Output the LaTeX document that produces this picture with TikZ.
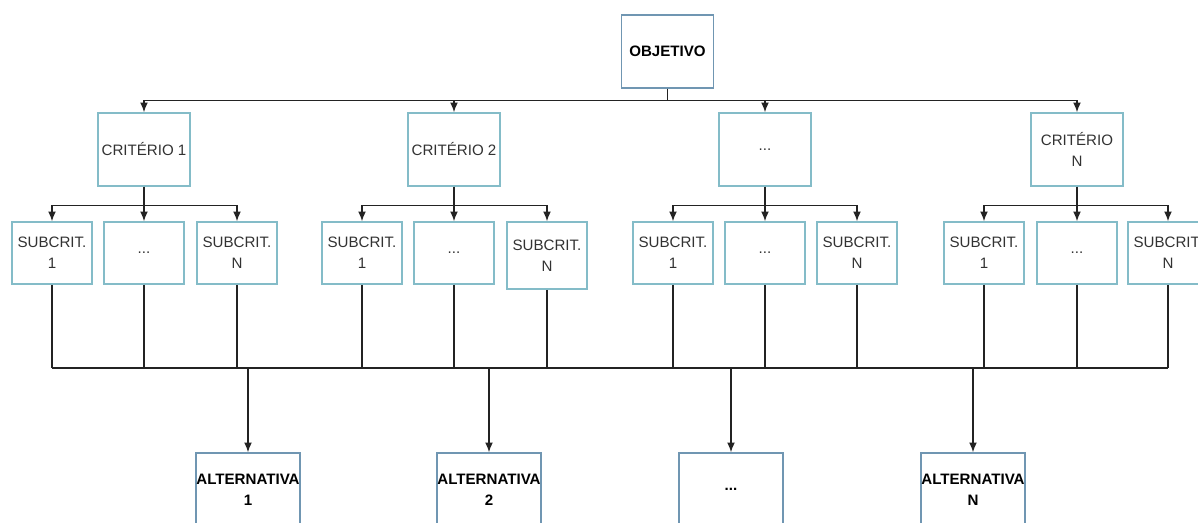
\documentclass[tikz,border=0pt]{standalone}
\usepackage{fontspec}
\setmainfont{Liberation Sans}
\usetikzlibrary{positioning, arrows.meta}
\definecolor{critBlue}{RGB}{132,188,200}
\definecolor{objBlue}{RGB}{112,150,178}
\definecolor{lineGray}{RGB}{35,35,35}
\definecolor{textGray}{RGB}{50,50,50}
\tikzset{
	critbox/.style={draw=critBlue, line width=0.9pt, rectangle, align=center, inner sep=0pt,
		minimum width=1.84cm, minimum height=1.46cm, text=textGray, font=\fontsize{8.6}{12}\selectfont},
	subbox/.style={critbox, minimum width=1.6cm, minimum height=1.24cm},
	objbox/.style={draw=objBlue, line width=0.9pt, rectangle, align=center, inner sep=0pt,
		minimum width=1.84cm, minimum height=1.46cm, text=black, font=\fontsize{8.6}{12}\selectfont\bfseries},
	altbox/.style={objbox, minimum width=2.08cm},
	link/.style={draw=lineGray, line width=0.8pt},
	arrowlink/.style={link, -{Latex[length=5.5pt, width=4.5pt]}}
}
\begin{document}
\begin{tikzpicture}[x=0.02cm, y=-0.02cm]
		\clip (0,0) rectangle (1198,523);
		
		\node (Objetivo) at (667.5,51.5) [objbox]{OBJETIVO};
		
		\node (Criterio 1) at (144,149.5) [critbox]{CRITÉRIO 1};
		\node (Criterio 2) at (454,149.5) [critbox]{CRITÉRIO 2};
		\node (Criterio 3) at (765,149.5) [critbox]{...};
		\node (Criterio N) at (1077,149.5) [critbox]{CRITÉRIO\\N};
		
		\node (Sub 1-1) at (52,253) [subbox]{SUBCRIT.\\1};
		\node (Sub 1-2) at (144,253) [subbox]{...};
		\node (Sub 1-N) at (237,253) [subbox]{SUBCRIT.\\N};
		
		\node (Sub 2-1) at (362,253) [subbox]{SUBCRIT.\\1};
		\node (Sub 2-2) at (454,253) [subbox]{...};
		\node (Sub 2-N) at (547,255.5) [subbox, minimum height=1.34cm]{SUBCRIT.\\N};
		
		\node (Sub 3-1) at (673,253) [subbox]{SUBCRIT.\\1};
		\node (Sub 3-2) at (765,253) [subbox]{...};
		\node (Sub 3-N) at (857,253) [subbox]{SUBCRIT.\\N};
		
		\node (Sub 4-1) at (984,253) [subbox]{SUBCRIT.\\1};
		\node (Sub 4-2) at (1077,253) [subbox]{...};
		\node (Sub 4-N) at (1168,253) [subbox]{SUBCRIT.\\N};
		
		\node (Alternativa 1) at (248,489.5) [altbox]{ALTERNATIVA\\1};
		\node (Alternativa 2) at (489,489.5) [altbox]{ALTERNATIVA\\2};
		\node (Alternativa 3) at (731,489.5) [altbox]{...};
		\node (Alternativa N) at (973,489.5) [altbox]{ALTERNATIVA\\N};
		
		\coordinate (Bus) at (0,368);
		
		%Links objetivo - criterios
		\draw[arrowlink] (Objetivo.270) -- ++(0,12) -| (Criterio 1.90);
		\draw[arrowlink] (Objetivo.270) -- ++(0,12) -| (Criterio 2.90);
		\draw[arrowlink] (Objetivo.270) -- ++(0,12) -| (Criterio 3.90);
		\draw[arrowlink] (Objetivo.270) -- ++(0,12) -| (Criterio N.90);
		
		%Links criterios - subcriterios
		\draw[arrowlink] (Criterio 1.270) -- ++(0,19) -| (Sub 1-1.90);
		\draw[arrowlink] (Criterio 1.270) -- (Sub 1-2.90);
		\draw[arrowlink] (Criterio 1.270) -- ++(0,19) -| (Sub 1-N.90);
		\draw[arrowlink] (Criterio 2.270) -- ++(0,19) -| (Sub 2-1.90);
		\draw[arrowlink] (Criterio 2.270) -- (Sub 2-2.90);
		\draw[arrowlink] (Criterio 2.270) -- ++(0,19) -| (Sub 2-N.90);
		\draw[arrowlink] (Criterio 3.270) -- ++(0,19) -| (Sub 3-1.90);
		\draw[arrowlink] (Criterio 3.270) -- (Sub 3-2.90);
		\draw[arrowlink] (Criterio 3.270) -- ++(0,19) -| (Sub 3-N.90);
		\draw[arrowlink] (Criterio N.270) -- ++(0,19) -| (Sub 4-1.90);
		\draw[arrowlink] (Criterio N.270) -- (Sub 4-2.90);
		\draw[arrowlink] (Criterio N.270) -- ++(0,19) -| (Sub 4-N.90);
		
		%Links subcriterios - barramento
		\draw[link] (Sub 1-1.270) -- (Sub 1-1.270 |- Bus);
		\draw[link] (Sub 1-2.270) -- (Sub 1-2.270 |- Bus);
		\draw[link] (Sub 1-N.270) -- (Sub 1-N.270 |- Bus);
		\draw[link] (Sub 2-1.270) -- (Sub 2-1.270 |- Bus);
		\draw[link] (Sub 2-2.270) -- (Sub 2-2.270 |- Bus);
		\draw[link] (Sub 2-N.270) -- (Sub 2-N.270 |- Bus);
		\draw[link] (Sub 3-1.270) -- (Sub 3-1.270 |- Bus);
		\draw[link] (Sub 3-2.270) -- (Sub 3-2.270 |- Bus);
		\draw[link] (Sub 3-N.270) -- (Sub 3-N.270 |- Bus);
		\draw[link] (Sub 4-1.270) -- (Sub 4-1.270 |- Bus);
		\draw[link] (Sub 4-2.270) -- (Sub 4-2.270 |- Bus);
		\draw[link] (Sub 4-N.270) -- (Sub 4-N.270 |- Bus);
		\draw[link] (Sub 1-1.270 |- Bus) -- (Sub 4-N.270 |- Bus);
		
		%Links barramento - alternativas
		\draw[arrowlink] (Alternativa 1.90 |- Bus) -- (Alternativa 1.90);
		\draw[arrowlink] (Alternativa 2.90 |- Bus) -- (Alternativa 2.90);
		\draw[arrowlink] (Alternativa 3.90 |- Bus) -- (Alternativa 3.90);
		\draw[arrowlink] (Alternativa N.90 |- Bus) -- (Alternativa N.90);
		
\end{tikzpicture}
\end{document}
